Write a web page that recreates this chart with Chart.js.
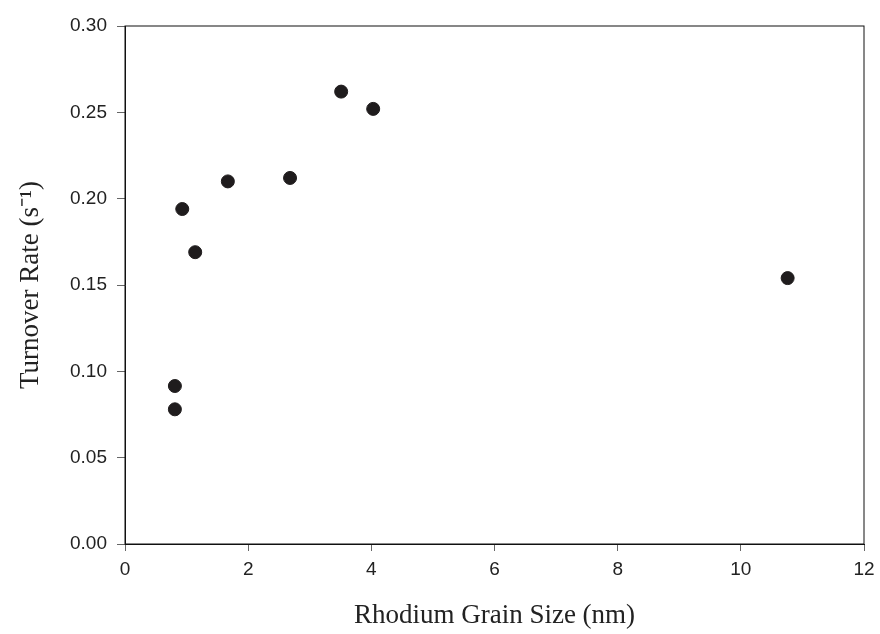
<!DOCTYPE html>
<html>
<head>
<meta charset="utf-8">
<script src="https://cdn.jsdelivr.net/npm/chart.js@4/dist/chart.umd.min.js"></script>
<style>
  body { margin: 0; background: #fff; }
  #wrap { width: 880px; height: 634px; }
</style>
</head>
<body>
<div id="wrap"><canvas id="rateChart" width="880" height="634"></canvas></div>
<script>
// Rhodium grain size (nm) vs. turnover rate (1/s)
const grainSize    = [0.81, 0.81, 0.93, 1.14, 1.67, 2.68, 3.51, 4.03, 10.76];
const turnoverRate = [0.078, 0.0915, 0.194, 0.169, 0.210, 0.212, 0.262, 0.252, 0.154];

const xTitle = 'Rhodium Grain Size (nm)';
const yTitle = 'Turnover Rate (s\u207B\u00B9)';

const points = grainSize.map((x, i) => ({ x: x, y: turnoverRate[i] }));

// Rahmen um die Plotfläche (oben und rechts fehlen sonst)
const frameBox = {
  id: 'frameBox',
  afterDraw(chart) {
    const { ctx, chartArea: a } = chart;
    ctx.save();
    ctx.strokeStyle = '#111';
    ctx.lineWidth = 1;
    ctx.strokeRect(a.left, a.top, a.right - a.left, a.bottom - a.top);
    ctx.restore();
  }
};

const tickFont = { family: 'Liberation Sans, Arial, sans-serif', size: 19 };
const titleFont = { family: 'Liberation Serif, Times New Roman, serif', size: 27 };

const ctx = document.getElementById('rateChart').getContext('2d');
const rateChart = new Chart(ctx, {
  type: 'scatter',
  data: {
    datasets: [{
      data: points,
      backgroundColor: '#1f1c1d',
      borderColor: '#1f1c1d',
      pointRadius: 6.5,
      pointHoverRadius: 6.5
    }]
  },
  options: {
    responsive: false,
    animation: false,
    layout: { padding: { top: 26, right: 16, bottom: 0, left: 0 } },
    plugins: { legend: { display: false }, tooltip: { enabled: false } },
    scales: {
      x: {
        type: 'linear',
        min: 0,
        max: 12,
        afterFit(scale) {
          scale.height = 90;
          scale.paddingLeft = 0;
          scale.paddingRight = 0;
        },
        ticks: { stepSize: 2, color: '#222', font: tickFont, padding: 7, maxRotation: 0 },
        grid: { drawOnChartArea: false, drawTicks: true, tickLength: 7, color: '#666' },
        border: { display: true, color: '#111', width: 1 },
        title: { display: true, text: xTitle, color: '#222', font: titleFont, padding: { top: 0, bottom: 2 } }
      },
      y: {
        type: 'linear',
        min: 0,
        max: 0.3,
        afterFit(scale) { scale.width = 125; },
        ticks: { stepSize: 0.05, color: '#222', font: tickFont, padding: 10,
                 callback: v => v.toFixed(2) },
        grid: { drawOnChartArea: false, drawTicks: true, tickLength: 8, color: '#666' },
        border: { display: true, color: '#111', width: 1 },
        title: { display: true, text: yTitle, color: '#222', font: titleFont, padding: { top: 15, bottom: 0 } }
      }
    }
  },
  plugins: [frameBox]
});
</script>
</body>
</html>
